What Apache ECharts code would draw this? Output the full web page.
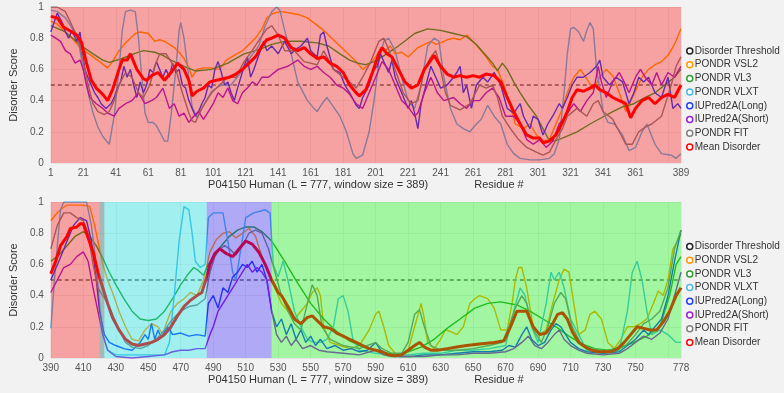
<!DOCTYPE html>
<html>
<head>
<meta charset="utf-8">
<script src="https://cdn.jsdelivr.net/npm/echarts@6/dist/echarts.min.js"></script>
<style>
  html, body { margin: 0; padding: 0; background: #f2f2f2; }
  #chart { width: 784px; height: 393px; }
</style>
</head>
<body>
<div id="chart"></div>
<script>
const seriesNames = ["Disorder Threshold", "PONDR VSL2", "PONDR VL3", "PONDR VLXT",
  "IUPred2A(Long)", "IUPred2A(Short)", "PONDR FIT", "Mean Disorder"];
const seriesColors = ["#222222", "#ff9900", "#2ca02c", "#4fb6e6", "#1f3fff", "#9a1fd6", "#808080", "#ff0000"];
const threshold = 0.5;

// residue ranges and tick labels
const topRange = [1, 389];
const bottomRange = [390, 778];
const topTicks = [1, 21, 41, 61, 81, 101, 121, 141, 161, 181, 201, 221, 241, 261, 281, 301, 321, 341, 361, 389];
const bottomTicks = [390, 410, 430, 450, 470, 490, 510, 530, 550, 570, 590, 610, 630, 650, 670, 690, 710, 730, 750, 778];
const yTicks = [0, 0.2, 0.4, 0.6, 0.8, 1];

// coloured regions [from, to, colour]
const topBands = [[1, 389, "rgba(255,0,0,0.33)"]];
const bottomBands = [
  [390, 423, "rgba(255,0,0,0.33)"],
  [420, 486, "rgba(0,235,235,0.33)"],
  [486, 526, "rgba(40,20,255,0.33)"],
  [526, 778, "rgba(0,255,0,0.33)"]
];

// ---- residues 1-389 : [residue, score]
const topVSL2 = [[1,0.91],[5,0.89],[10,0.84],[15,0.79],[19,0.74],[23,0.71],[27,0.68],[31,0.65],[36,0.61],[39,0.65],[43,0.72],[47,0.77],[50,0.80],[53,0.83],[56,0.84],[61,0.83],[65,0.78],[68,0.79],[71,0.78],[74,0.76],[77,0.74],[80,0.71],[83,0.67],[86,0.61],[88,0.55],[91,0.60],[95,0.61],[99,0.61],[105,0.60],[109,0.66],[114,0.69],[119,0.72],[123,0.76],[127,0.80],[131,0.86],[134,0.93],[138,0.96],[143,0.97],[149,0.96],[154,0.95],[159,0.93],[164,0.89],[169,0.85],[174,0.80],[179,0.75],[184,0.70],[189,0.65],[193,0.60],[197,0.63],[201,0.68],[204,0.73],[207,0.72],[210,0.75],[213,0.70],[217,0.71],[221,0.68],[224,0.71],[227,0.74],[231,0.76],[235,0.78],[238,0.76],[241,0.77],[245,0.79],[249,0.80],[253,0.79],[257,0.82],[261,0.78],[265,0.73],[269,0.68],[273,0.62],[276,0.60],[280,0.50],[283,0.40],[287,0.25],[292,0.22],[296,0.25],[300,0.18],[304,0.14],[308,0.15],[312,0.25],[316,0.35],[319,0.45],[323,0.55],[327,0.60],[331,0.54],[335,0.47],[339,0.55],[343,0.60],[347,0.56],[351,0.45],[355,0.33],[360,0.44],[365,0.55],[369,0.60],[373,0.63],[377,0.65],[381,0.69],[385,0.76],[389,0.86]];
const topVL3 = [[1,0.88],[10,0.84],[20,0.75],[27,0.70],[33,0.66],[37,0.645],[45,0.67],[52,0.70],[58,0.72],[65,0.71],[70,0.69],[75,0.66],[83,0.62],[90,0.59],[100,0.60],[110,0.64],[120,0.70],[130,0.73],[137,0.76],[145,0.78],[155,0.78],[165,0.77],[172,0.75],[179,0.70],[185,0.66],[190,0.64],[195,0.63],[200,0.65],[205,0.68],[215,0.75],[225,0.83],[233,0.86],[241,0.85],[249,0.83],[257,0.81],[263,0.76],[268,0.70],[273,0.64],[276,0.59],[279,0.64],[282,0.60],[286,0.52],[290,0.45],[295,0.37],[300,0.30],[304,0.22],[307,0.16],[311,0.14],[316,0.16],[325,0.20],[333,0.25],[340,0.29],[347,0.33],[353,0.36],[360,0.38],[367,0.42],[373,0.45],[379,0.50],[385,0.55],[389,0.60]];
const topVLXT = [[1,0.98],[5,0.97],[10,0.93],[15,0.85],[18,0.78],[21,0.60],[24,0.45],[27,0.32],[30,0.23],[33,0.17],[37,0.12],[40,0.30],[43,0.60],[45,0.85],[47,0.97],[50,0.98],[53,0.97],[55,0.80],[57,0.55],[59,0.32],[61,0.26],[64,0.26],[66,0.24],[68,0.20],[71,0.14],[73,0.14],[75,0.30],[78,0.60],[80,0.85],[81,0.90],[83,0.80],[86,0.55],[88,0.36],[91,0.29],[95,0.37],[100,0.46],[106,0.50],[112,0.50],[118,0.58],[124,0.68],[129,0.75],[133,0.88],[137,0.97],[140,1.0],[142,0.98],[145,0.85],[149,0.70],[153,0.52],[159,0.40],[163,0.35],[165,0.33],[168,0.38],[171,0.42],[175,0.36],[179,0.30],[183,0.20],[187,0.06],[189,0.03],[193,0.05],[197,0.20],[200,0.40],[203,0.65],[206,0.78],[209,0.80],[213,0.72],[217,0.55],[221,0.40],[225,0.35],[229,0.50],[233,0.75],[237,0.80],[240,0.78],[243,0.55],[247,0.35],[251,0.25],[255,0.22],[259,0.20],[263,0.25],[266,0.28],[270,0.37],[274,0.30],[278,0.25],[282,0.12],[286,0.06],[290,0.03],[296,0.02],[302,0.02],[308,0.03],[311,0.06],[314,0.15],[317,0.45],[319,0.70],[321,0.86],[323,0.87],[326,0.84],[329,0.78],[331,0.85],[333,0.90],[335,0.86],[337,0.60],[339,0.48],[341,0.33],[344,0.26],[348,0.25],[353,0.18],[357,0.08],[361,0.10],[365,0.20],[368,0.25],[373,0.12],[377,0.06],[383,0.05],[386,0.03],[389,0.06]];
const topLong = [[1,0.84],[3,0.9],[5,0.96],[8,0.90],[10,0.84],[12,0.80],[14,0.85],[17,0.78],[19,0.84],[20,0.75],[22,0.60],[25,0.52],[28,0.45],[30,0.42],[32,0.38],[35,0.35],[38,0.38],[40,0.42],[42,0.48],[44,0.52],[46,0.62],[48,0.55],[50,0.60],[52,0.50],[54,0.42],[56,0.52],[58,0.45],[60,0.50],[62,0.60],[64,0.58],[66,0.65],[68,0.60],[70,0.55],[72,0.60],[74,0.55],[76,0.64],[78,0.58],[80,0.60],[82,0.50],[84,0.48],[86,0.40],[88,0.35],[90,0.30],[92,0.33],[94,0.38],[96,0.42],[98,0.50],[100,0.48],[102,0.60],[104,0.65],[106,0.58],[108,0.50],[110,0.52],[112,0.45],[114,0.40],[116,0.48],[118,0.55],[120,0.62],[122,0.68],[124,0.55],[126,0.60],[128,0.66],[130,0.72],[132,0.78],[134,0.72],[137,0.75],[141,0.70],[145,0.78],[149,0.70],[152,0.73],[155,0.75],[159,0.80],[161,0.72],[165,0.68],[167,0.82],[169,0.84],[171,0.75],[175,0.60],[179,0.58],[182,0.50],[185,0.45],[189,0.37],[191,0.35],[193,0.42],[197,0.50],[200,0.60],[202,0.62],[204,0.70],[206,0.65],[209,0.58],[211,0.66],[213,0.55],[217,0.45],[221,0.35],[223,0.40],[225,0.32],[227,0.22],[229,0.38],[232,0.50],[235,0.62],[238,0.55],[241,0.48],[245,0.50],[249,0.55],[251,0.58],[253,0.62],[255,0.45],[257,0.50],[260,0.35],[263,0.50],[267,0.55],[270,0.52],[274,0.58],[278,0.50],[282,0.35],[286,0.32],[290,0.38],[292,0.30],[296,0.22],[298,0.30],[301,0.28],[304,0.18],[307,0.25],[310,0.30],[314,0.38],[316,0.35],[319,0.42],[322,0.50],[325,0.55],[329,0.55],[333,0.58],[337,0.62],[339,0.66],[341,0.55],[345,0.50],[349,0.55],[353,0.52],[355,0.45],[357,0.38],[360,0.45],[363,0.55],[366,0.52],[369,0.55],[373,0.45],[377,0.42],[381,0.55],[384,0.35],[387,0.38],[389,0.35]];
const topShort = [[1,0.82],[4,0.80],[7,0.78],[10,0.72],[13,0.70],[16,0.64],[19,0.66],[21,0.60],[23,0.50],[25,0.42],[29,0.38],[33,0.35],[36,0.32],[40,0.30],[43,0.35],[47,0.38],[51,0.40],[55,0.45],[59,0.38],[63,0.40],[66,0.42],[70,0.48],[74,0.35],[77,0.38],[80,0.30],[83,0.32],[86,0.26],[89,0.30],[92,0.33],[95,0.28],[98,0.33],[101,0.38],[104,0.45],[107,0.42],[110,0.48],[113,0.40],[116,0.38],[119,0.45],[122,0.48],[125,0.52],[128,0.50],[131,0.55],[135,0.55],[141,0.60],[147,0.62],[153,0.66],[157,0.62],[161,0.60],[165,0.62],[169,0.58],[173,0.55],[177,0.50],[181,0.48],[185,0.44],[189,0.38],[193,0.35],[197,0.45],[201,0.55],[205,0.65],[209,0.60],[213,0.50],[217,0.40],[221,0.36],[225,0.30],[227,0.32],[231,0.45],[235,0.55],[239,0.45],[243,0.40],[249,0.42],[253,0.38],[257,0.35],[261,0.40],[265,0.40],[269,0.45],[273,0.48],[277,0.42],[281,0.30],[286,0.30],[290,0.25],[294,0.15],[298,0.12],[302,0.15],[306,0.10],[310,0.14],[314,0.25],[318,0.30],[321,0.35],[323,0.38],[327,0.33],[331,0.40],[335,0.45],[338,0.62],[340,0.52],[343,0.42],[347,0.52],[351,0.58],[354,0.52],[357,0.45],[361,0.55],[364,0.60],[367,0.55],[371,0.50],[374,0.58],[377,0.50],[381,0.58],[385,0.55],[389,0.62]];
const topFIT = [[1,1.0],[5,1.0],[10,0.97],[15,0.86],[18,0.80],[21,0.65],[24,0.50],[27,0.38],[30,0.33],[34,0.31],[37,0.33],[40,0.40],[43,0.50],[47,0.58],[51,0.55],[55,0.45],[58,0.42],[62,0.50],[65,0.62],[68,0.70],[72,0.70],[75,0.65],[78,0.60],[82,0.45],[86,0.32],[88,0.27],[90,0.26],[94,0.35],[100,0.45],[105,0.50],[110,0.55],[115,0.55],[120,0.65],[125,0.72],[130,0.80],[134,0.86],[137,0.88],[141,0.82],[145,0.72],[151,0.72],[157,0.65],[165,0.63],[169,0.72],[175,0.60],[181,0.55],[185,0.52],[189,0.48],[193,0.55],[198,0.65],[203,0.78],[206,0.80],[209,0.73],[213,0.60],[218,0.45],[223,0.38],[227,0.40],[231,0.60],[235,0.68],[238,0.72],[241,0.60],[244,0.45],[247,0.37],[253,0.34],[259,0.38],[265,0.50],[269,0.48],[273,0.50],[276,0.42],[279,0.30],[284,0.22],[289,0.15],[294,0.10],[300,0.07],[304,0.05],[308,0.07],[312,0.15],[316,0.22],[319,0.30],[325,0.35],[331,0.30],[335,0.38],[338,0.40],[341,0.33],[347,0.28],[351,0.20],[355,0.12],[359,0.12],[363,0.20],[367,0.23],[371,0.25],[377,0.30],[380,0.40],[383,0.50],[386,0.62],[389,0.68]];
const topMean = [[1,0.94],[5,0.93],[9,0.87],[14,0.84],[17,0.82],[20,0.77],[23,0.64],[26,0.53],[29,0.48],[33,0.44],[36,0.40],[39,0.47],[43,0.60],[45,0.66],[48,0.66],[50,0.70],[54,0.60],[58,0.54],[60,0.53],[63,0.56],[67,0.58],[71,0.53],[75,0.58],[79,0.64],[83,0.60],[86,0.53],[88,0.43],[91,0.46],[95,0.48],[99,0.52],[103,0.53],[107,0.54],[111,0.55],[115,0.57],[119,0.60],[123,0.64],[127,0.68],[131,0.75],[134,0.79],[137,0.80],[141,0.82],[145,0.80],[149,0.74],[153,0.72],[157,0.74],[161,0.70],[165,0.67],[169,0.68],[173,0.64],[177,0.62],[181,0.58],[185,0.50],[189,0.45],[191,0.43],[195,0.47],[199,0.58],[203,0.70],[205,0.74],[208,0.70],[211,0.68],[215,0.60],[219,0.52],[223,0.48],[227,0.50],[231,0.60],[235,0.66],[237,0.69],[241,0.62],[245,0.57],[249,0.55],[253,0.56],[257,0.55],[261,0.56],[265,0.55],[269,0.57],[274,0.56],[278,0.52],[282,0.42],[286,0.33],[290,0.25],[294,0.18],[298,0.16],[302,0.16],[304,0.13],[308,0.14],[312,0.18],[316,0.26],[319,0.33],[322,0.42],[325,0.47],[329,0.46],[333,0.48],[336,0.50],[339,0.47],[343,0.45],[347,0.42],[351,0.40],[355,0.38],[358,0.29],[361,0.35],[365,0.40],[369,0.42],[373,0.38],[377,0.42],[381,0.44],[385,0.42],[389,0.50]];

// ---- residues 390-778 : [residue, score]
const botVSL2 = [[390,0.88],[393,0.92],[397,0.96],[400,0.98],[410,0.98],[414,0.97],[417,0.85],[419,0.75],[422,0.60],[425,0.50],[428,0.42],[432,0.30],[436,0.20],[440,0.12],[444,0.11],[448,0.18],[452,0.22],[456,0.20],[459,0.15],[461,0.22],[464,0.30],[468,0.35],[472,0.38],[476,0.42],[480,0.40],[484,0.50],[488,0.68],[492,0.76],[496,0.80],[500,0.81],[504,0.77],[508,0.80],[512,0.83],[516,0.78],[520,0.65],[524,0.55],[528,0.45],[532,0.35],[536,0.30],[540,0.25],[544,0.30],[548,0.35],[551,0.42],[554,0.45],[556,0.40],[558,0.20],[562,0.10],[568,0.08],[574,0.06],[580,0.08],[586,0.18],[590,0.28],[592,0.30],[595,0.20],[598,0.08],[602,0.03],[606,0.02],[610,0.05],[614,0.20],[618,0.35],[620,0.25],[622,0.10],[626,0.06],[630,0.12],[633,0.18],[636,0.17],[640,0.15],[644,0.20],[648,0.35],[651,0.38],[654,0.40],[659,0.38],[663,0.32],[667,0.18],[671,0.18],[674,0.35],[676,0.50],[678,0.58],[680,0.58],[683,0.45],[687,0.20],[691,0.15],[695,0.18],[699,0.35],[703,0.50],[706,0.57],[709,0.55],[712,0.35],[715,0.15],[719,0.18],[722,0.28],[725,0.30],[729,0.25],[733,0.10],[737,0.06],[741,0.12],[745,0.20],[749,0.20],[753,0.22],[757,0.25],[761,0.35],[764,0.43],[767,0.40],[770,0.50],[773,0.70],[776,0.75],[778,0.80]];
const botVL3 = [[390,0.62],[395,0.66],[400,0.72],[405,0.78],[410,0.81],[414,0.78],[418,0.72],[422,0.64],[426,0.55],[430,0.47],[435,0.38],[440,0.30],[445,0.25],[450,0.24],[455,0.25],[460,0.30],[465,0.38],[470,0.47],[474,0.53],[478,0.58],[481,0.56],[484,0.53],[487,0.60],[490,0.65],[495,0.72],[500,0.78],[505,0.82],[510,0.84],[515,0.84],[520,0.81],[526,0.75],[534,0.62],[542,0.48],[550,0.35],[558,0.25],[566,0.17],[574,0.11],[582,0.07],[590,0.05],[598,0.03],[604,0.02],[610,0.04],[618,0.07],[626,0.12],[634,0.19],[642,0.25],[651,0.32],[659,0.35],[667,0.36],[677,0.34],[685,0.30],[693,0.25],[701,0.20],[709,0.14],[717,0.09],[725,0.06],[733,0.05],[741,0.07],[749,0.10],[757,0.14],[765,0.20],[771,0.40],[775,0.60],[778,0.65]];
const botVLXT = [[390,0.19],[393,0.60],[396,0.95],[398,1.0],[412,1.0],[415,0.85],[418,0.60],[420,0.35],[422,0.15],[425,0.05],[430,0.02],[460,0.02],[463,0.10],[466,0.40],[469,0.75],[472,0.97],[475,0.95],[477,0.80],[479,0.62],[482,0.58],[485,0.60],[487,0.90],[490,0.93],[496,0.93],[499,0.75],[502,0.55],[504,0.50],[507,0.70],[510,0.90],[515,0.93],[522,0.95],[525,0.93],[527,0.60],[530,0.52],[533,0.62],[536,0.50],[540,0.30],[544,0.20],[548,0.12],[552,0.10],[556,0.10],[560,0.12],[564,0.20],[567,0.38],[570,0.40],[573,0.30],[576,0.12],[580,0.05],[590,0.03],[600,0.02],[610,0.02],[620,0.03],[630,0.03],[640,0.05],[650,0.05],[660,0.06],[670,0.08],[675,0.30],[679,0.45],[682,0.40],[686,0.20],[690,0.10],[695,0.35],[698,0.55],[700,0.50],[703,0.55],[706,0.45],[710,0.25],[715,0.15],[720,0.05],[730,0.04],[740,0.05],[745,0.30],[748,0.55],[751,0.62],[754,0.50],[757,0.30],[760,0.15],[765,0.18],[770,0.15],[775,0.10],[778,0.10]];
const botLong = [[390,0.50],[395,0.62],[400,0.75],[404,0.85],[408,0.90],[412,0.88],[415,0.75],[418,0.50],[420,0.30],[423,0.15],[426,0.10],[430,0.08],[435,0.06],[440,0.05],[445,0.10],[448,0.15],[450,0.12],[452,0.22],[454,0.12],[456,0.18],[458,0.13],[462,0.20],[465,0.15],[470,0.16],[475,0.14],[480,0.15],[485,0.14],[487,0.35],[490,0.40],[493,0.32],[496,0.45],[499,0.42],[502,0.52],[505,0.55],[508,0.60],[511,0.58],[514,0.62],[517,0.55],[520,0.60],[523,0.50],[526,0.30],[529,0.20],[532,0.25],[535,0.15],[538,0.22],[541,0.12],[544,0.18],[547,0.10],[550,0.14],[553,0.08],[556,0.12],[560,0.06],[565,0.08],[570,0.05],[575,0.06],[580,0.04],[585,0.05],[590,0.10],[593,0.05],[598,0.02],[605,0.01],[612,0.01],[620,0.02],[630,0.02],[640,0.03],[650,0.04],[660,0.04],[668,0.05],[672,0.08],[676,0.07],[680,0.15],[683,0.20],[686,0.12],[690,0.08],[694,0.10],[698,0.18],[701,0.22],[704,0.20],[707,0.15],[710,0.10],[715,0.06],[720,0.04],[730,0.03],[740,0.04],[745,0.08],[750,0.12],[755,0.18],[758,0.15],[762,0.20],[766,0.25],[770,0.40],[774,0.62],[778,0.82]];
const botShort = [[390,0.42],[394,0.50],[398,0.58],[402,0.60],[406,0.65],[410,0.68],[413,0.62],[416,0.45],[419,0.30],[422,0.15],[425,0.05],[430,0.01],[440,0.00],[450,0.01],[460,0.02],[465,0.04],[470,0.05],[475,0.05],[480,0.06],[485,0.06],[488,0.15],[490,0.20],[493,0.30],[496,0.35],[499,0.40],[502,0.45],[505,0.50],[508,0.55],[511,0.60],[514,0.55],[517,0.58],[520,0.55],[523,0.50],[526,0.30],[529,0.15],[532,0.10],[535,0.14],[538,0.08],[541,0.12],[545,0.06],[550,0.08],[555,0.05],[560,0.04],[570,0.03],[580,0.02],[590,0.05],[595,0.02],[600,0.01],[610,0.01],[620,0.01],[630,0.02],[640,0.02],[650,0.03],[660,0.03],[670,0.04],[675,0.06],[680,0.10],[684,0.14],[688,0.08],[692,0.06],[696,0.10],[700,0.15],[703,0.18],[706,0.12],[710,0.08],[715,0.05],[720,0.03],[730,0.02],[740,0.03],[745,0.06],[750,0.10],[755,0.14],[760,0.12],[765,0.16],[770,0.25],[774,0.40],[778,0.55]];
const botFIT = [[390,0.70],[394,0.85],[398,0.93],[402,0.93],[406,0.90],[410,0.88],[413,0.80],[416,0.60],[419,0.45],[422,0.40],[425,0.35],[428,0.28],[432,0.18],[436,0.10],[440,0.07],[445,0.06],[450,0.08],[455,0.12],[460,0.18],[465,0.25],[470,0.30],[475,0.33],[480,0.34],[485,0.38],[488,0.55],[491,0.65],[494,0.70],[497,0.72],[500,0.70],[504,0.66],[508,0.72],[512,0.80],[516,0.82],[520,0.80],[524,0.70],[528,0.55],[532,0.40],[536,0.30],[540,0.22],[544,0.18],[548,0.35],[551,0.47],[554,0.40],[557,0.20],[562,0.12],[570,0.08],[580,0.06],[590,0.10],[594,0.06],[600,0.03],[606,0.03],[610,0.10],[614,0.28],[617,0.31],[620,0.20],[624,0.08],[630,0.05],[640,0.05],[650,0.06],[660,0.08],[668,0.10],[672,0.20],[676,0.32],[680,0.40],[683,0.35],[687,0.18],[692,0.10],[696,0.20],[700,0.35],[704,0.42],[707,0.38],[711,0.20],[716,0.10],[722,0.06],[730,0.05],[738,0.05],[744,0.08],[750,0.15],[755,0.22],[760,0.25],[765,0.30],[770,0.45],[774,0.70],[778,0.82]];
const botMean = [[390,0.54],[393,0.62],[396,0.72],[400,0.78],[402,0.83],[406,0.84],[408,0.86],[410,0.86],[412,0.80],[416,0.68],[419,0.55],[422,0.45],[425,0.35],[428,0.26],[432,0.18],[436,0.12],[440,0.09],[444,0.08],[448,0.09],[452,0.10],[456,0.12],[460,0.15],[464,0.20],[468,0.27],[472,0.33],[476,0.37],[480,0.40],[483,0.42],[486,0.52],[488,0.60],[491,0.67],[494,0.70],[498,0.67],[502,0.65],[506,0.70],[510,0.75],[514,0.73],[518,0.68],[522,0.60],[526,0.50],[530,0.42],[532,0.40],[536,0.33],[540,0.25],[544,0.22],[548,0.26],[551,0.27],[554,0.24],[558,0.20],[562,0.19],[566,0.16],[570,0.14],[574,0.12],[578,0.10],[582,0.08],[586,0.06],[590,0.05],[594,0.04],[598,0.02],[602,0.015],[606,0.02],[610,0.05],[614,0.08],[617,0.10],[620,0.07],[624,0.05],[628,0.05],[634,0.06],[640,0.07],[646,0.08],[654,0.09],[663,0.10],[669,0.11],[673,0.20],[677,0.30],[680,0.30],[683,0.30],[687,0.20],[691,0.15],[695,0.16],[699,0.22],[702,0.28],[705,0.29],[708,0.25],[711,0.17],[715,0.10],[719,0.07],[723,0.05],[727,0.04],[731,0.04],[735,0.04],[739,0.06],[743,0.10],[747,0.15],[751,0.20],[755,0.19],[759,0.18],[763,0.18],[767,0.23],[771,0.30],[775,0.40],[778,0.45]];

const topPanel = [topVSL2, topVL3, topVLXT, topLong, topShort, topFIT, topMean];
const bottomPanel = [botVSL2, botVL3, botVLXT, botLong, botShort, botFIT, botMean];

const font = "'Liberation Sans', Arial, sans-serif";

function makeSeries(panel, range, bands, idx) {
  const list = [];
  list.push({
    name: seriesNames[0],
    type: "line",
    xAxisIndex: idx,
    yAxisIndex: idx,
    data: [[range[0], threshold], [range[1], threshold]],
    showSymbol: false,
    silent: true,
    z: 2,
    lineStyle: { color: seriesColors[0], width: 1.2, type: [4, 3] },
    itemStyle: { color: seriesColors[0] },
  });
  panel.forEach((d, i) => {
    const isMean = i === panel.length - 1;
    list.push({
      name: seriesNames[i + 1],
      type: "line",
      xAxisIndex: idx,
      yAxisIndex: idx,
      data: d,
      showSymbol: false,
      z: isMean ? 3 : 2,
      lineStyle: { color: seriesColors[i + 1], width: isMean ? 3 : 1.4 },
      itemStyle: { color: seriesColors[i + 1] },
    });
  });
  // coloured regions drawn over the lines
  list.push({
    type: "line",
    xAxisIndex: idx,
    yAxisIndex: idx,
    data: [],
    z: 6,
    silent: true,
    markArea: {
      silent: true,
      z: 10,
      data: bands.map((b) => [{ xAxis: b[0], itemStyle: { color: b[2] } }, { xAxis: b[1] }]),
    },
  });
  return list;
}

function makeXAxis(range, ticks, idx) {
  return {
    type: "value",
    gridIndex: idx,
    min: range[0],
    max: range[1],
    interval: 20,
    name: "{a|P04150 Human (L = 777, window size = 389)}{b|Residue #}",
    nameLocation: "middle",
    nameGap: 16,
    nameTextStyle: {
      rich: {
        a: { fontSize: 11, color: "#333", fontFamily: font },
        b: { fontSize: 11, color: "#333", fontFamily: font, padding: [0, 0, 0, 46] },
      },
    },
    axisLine: { show: false },
    axisTick: { show: false },
    splitLine: { show: true, lineStyle: { color: "rgba(0,0,0,0.05)" } },
    axisLabel: { customValues: ticks, fontSize: 10, color: "#555", margin: 5, fontFamily: font },
  };
}

function makeYAxis(idx) {
  return {
    type: "value",
    gridIndex: idx,
    min: 0,
    max: 1,
    interval: 0.2,
    name: "Disorder Score",
    nameLocation: "middle",
    nameGap: 17,
    nameTextStyle: { fontSize: 11, color: "#333", fontFamily: font },
    axisLine: { show: false },
    axisTick: { show: false },
    splitLine: { show: true, lineStyle: { color: "rgba(0,0,0,0.05)" } },
    axisLabel: { customValues: yTicks, fontSize: 10, color: "#555", margin: 7, fontFamily: font },
  };
}

function makeLegend(top) {
  return {
    orient: "vertical",
    left: 681,
    top: top,
    itemWidth: 6,
    itemHeight: 6,
    itemGap: 2.7,
    icon: "circle",
    textStyle: { fontSize: 10, lineHeight: 11, color: "#333", fontFamily: font, padding: [0, 0, 0, -3] },
    data: seriesNames.map((n, i) => ({
      name: n,
      itemStyle: { color: "#fff", borderColor: seriesColors[i], borderWidth: 1.5 },
    })),
  };
}

const chart = echarts.init(document.getElementById("chart"));
chart.setOption({
  animation: false,
  backgroundColor: "#f2f2f2",
  grid: [
    { left: 37, right: 103, top: 7, height: 156 },
    { left: 37, right: 103, top: 202, height: 156 },
  ],
  legend: [makeLegend(40.5), makeLegend(236)],
  xAxis: [makeXAxis(topRange, topTicks, 0), makeXAxis(bottomRange, bottomTicks, 1)],
  yAxis: [makeYAxis(0), makeYAxis(1)],
  series: [
    ...makeSeries(topPanel, topRange, topBands, 0),
    ...makeSeries(bottomPanel, bottomRange, bottomBands, 1),
  ],
});
</script>
</body>
</html>
